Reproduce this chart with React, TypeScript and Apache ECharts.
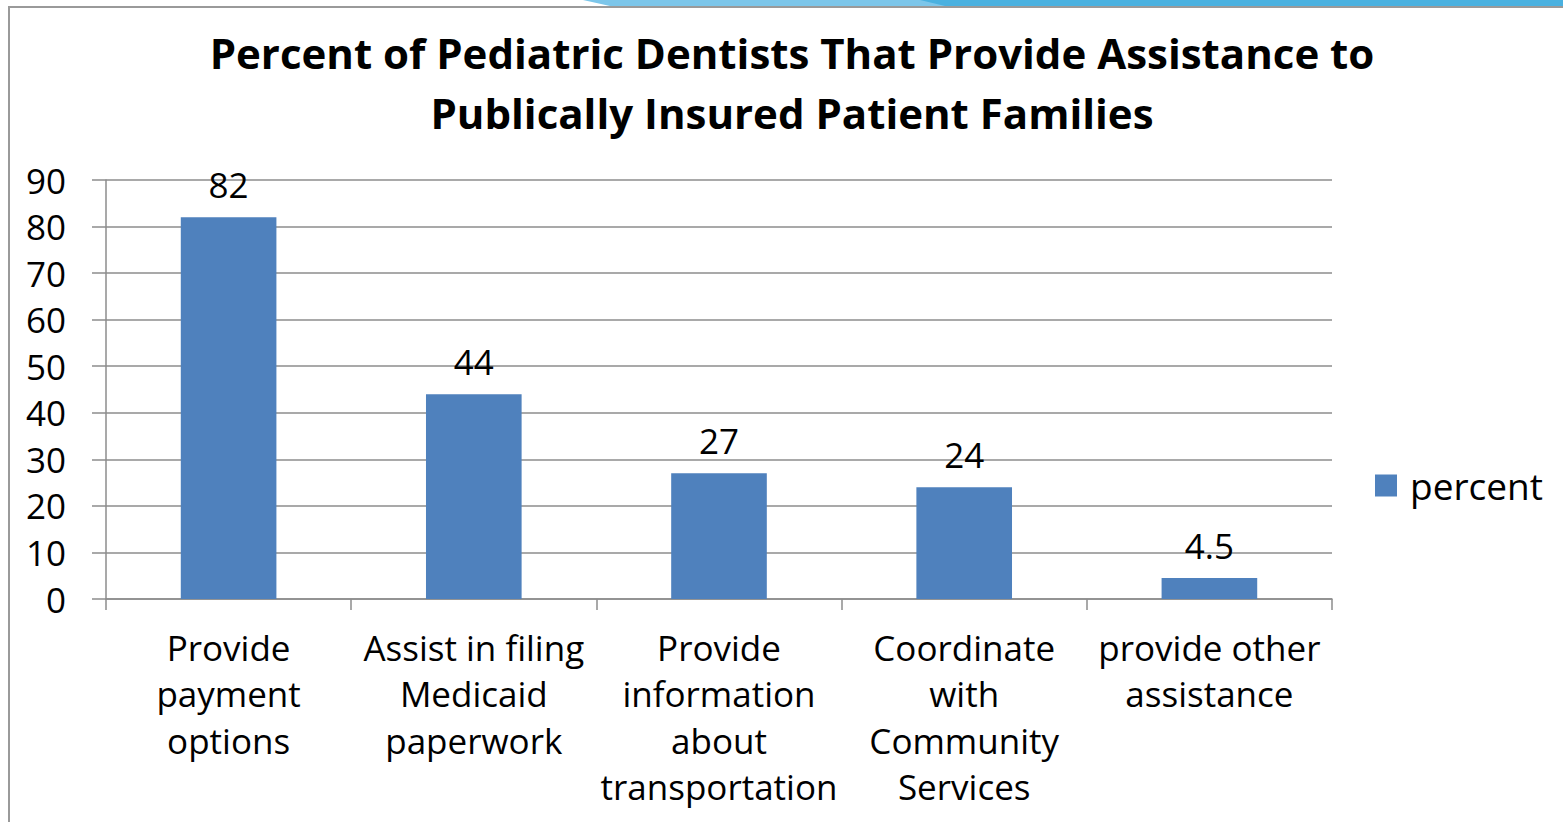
import React, { useEffect, useRef } from "react";
import * as echarts from "echarts";

const categories = [
  "Provide\npayment\noptions",
  "Assist in filing\nMedicaid\npaperwork",
  "Provide\ninformation\nabout\ntransportation",
  "Coordinate\nwith\nCommunity\nServices",
  "provide other\nassistance",
];
const percentValues = [82, 44, 27, 24, 4.5];
const seriesName = "percent";
const titleText = "Percent of Pediatric Dentists That Provide Assistance to\nPublically Insured Patient Families";

const FONT = "'Open Sans', Lato, sans-serif";

export default function App() {
  const ref = useRef<HTMLDivElement>(null);
  useEffect(() => {
    if (!ref.current) return;
    const chart = echarts.init(ref.current, null, { renderer: "svg" });
    chart.setOption({
      animation: false,
      backgroundColor: "#ffffff",
      graphic: [
        {
          type: "polygon",
          shape: { points: [[583, 0], [1563, 0], [1563, 6], [610, 6]] },
          style: { fill: "#7cc6ea" },
        },
        {
          type: "polygon",
          shape: { points: [[920, 0], [1563, 0], [1563, 6], [945, 6]] },
          style: { fill: "#4ab1e0" },
        },
        {
          type: "line",
          shape: { x1: 8, y1: 7, x2: 1563, y2: 7 },
          style: { stroke: "#9a9a9a", lineWidth: 2 },
        },
        {
          type: "line",
          shape: { x1: 9, y1: 7, x2: 9, y2: 822 },
          style: { stroke: "#9a9a9a", lineWidth: 2 },
        },
      ],
      title: {
        text: titleText,
        left: 787,
        textAlign: "center",
        top: 17,
        textStyle: {
          fontFamily: FONT,
          fontWeight: "bold",
          fontSize: 42,
          lineHeight: 60,
          color: "#000",
        },
      },
      legend: {
        data: [seriesName],
        left: 1370,
        top: 462,
        icon: "rect",
        itemWidth: 22,
        itemHeight: 22,
        itemGap: 12,
        textStyle: { fontFamily: FONT, fontSize: 37, color: "#000", padding: [0, 0, 0, 8] },
      },
      grid: { left: 106, top: 180, width: 1226, height: 419, containLabel: false },
      xAxis: {
        type: "category",
        data: categories,
        axisLine: { lineStyle: { color: "#8c8c8c", width: 1.5 } },
        axisTick: { show: true, length: 11, lineStyle: { color: "#8c8c8c", width: 1.5 } },
        axisLabel: {
          interval: 0,
          margin: 25,
          fontFamily: FONT,
          fontSize: 35,
          lineHeight: 46.5,
          color: "#000",
        },
      },
      yAxis: {
        type: "value",
        min: 0,
        max: 90,
        interval: 10,
        axisLine: { show: true, lineStyle: { color: "#8c8c8c", width: 1.5 } },
        axisTick: { show: true, length: 14, lineStyle: { color: "#8c8c8c", width: 1.5 } },
        splitLine: { lineStyle: { color: "#8c8c8c", width: 1.5 } },
        axisLabel: {
          margin: 40,
          fontFamily: FONT,
          fontSize: 35,
          color: "#000",
        },
      },
      series: [
        {
          name: seriesName,
          type: "bar",
          data: percentValues,
          barWidth: "39%",
          itemStyle: { color: "#4f81bd" },
          label: {
            show: true,
            position: "top",
            distance: 15,
            fontFamily: FONT,
            fontSize: 35,
            color: "#000",
          },
        },
      ],
    });
    return () => chart.dispose();
  }, []);
  return (
    <div
      ref={ref}
      style={{ position: "fixed", left: 0, top: 0, width: 1563, height: 822 }}
    />
  );
}
